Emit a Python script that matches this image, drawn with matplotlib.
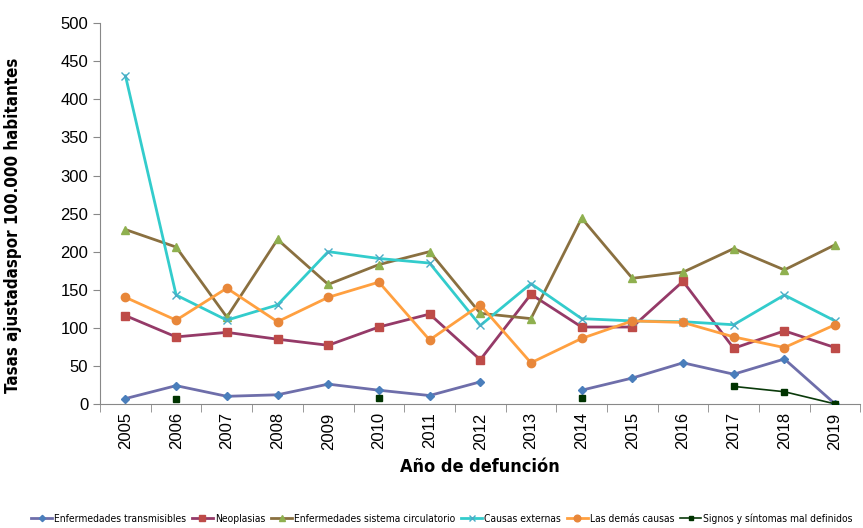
import numpy as np
import matplotlib.pyplot as plt
from matplotlib.lines import Line2D

# --- DATA ---
YEARS = [str(y) for y in range(2005, 2020)]
nan = np.nan

transmisibles = [7, 24, 10, 12, 26, 18, 11, 29, nan, 18, 34, 54, 39, 59, 0]
neoplasias = [116, 88, 94, 85, 77, 101, 118, 58, 144, 101, 101, 161, 73, 96, 74]
circulatorio = [229, 206, 114, 216, 157, 183, 200, 119, 112, 244, 165, 173, 204, 176, 209]
causas_externas = [431, 143, 110, 130, 200, 191, 185, 103, 158, 112, 109, 108, 104, 143, 109]
demas_causas = [140, 110, 152, 108, 140, 160, 84, 130, 54, 86, 109, 107, 88, 74, 104]
signos = [nan, 7, nan, nan, nan, 8, nan, nan, nan, 8, nan, nan, 23, 16, 0]

LABELS = [
    "Enfermedades transmisibles",
    "Neoplasias",
    "Enfermedades sistema circulatorio",
    "Causas externas",
    "Las demás causas",
    "Signos y síntomas mal definidos",
]

# (line colour, marker, marker colour, marker size, line width)
STYLES = [
    ("#6E6EAA", "D", "#4A7EBB", 4, 2.0),
    ("#953A68", "s", "#BE4B48", 6, 2.0),
    ("#8A7040", "^", "#8FB04F", 6, 2.0),
    ("#33CCCC", "x", "#4BACC6", 6, 2.0),
    ("#FFA040", "o", "#E8873A", 6, 2.0),
    ("#0A3A0A", "s", "#003300", 4, 1.2),
]

SERIES = [transmisibles, neoplasias, circulatorio, causas_externas, demas_causas, signos]

# Excel used Arial Narrow; DejaVu Sans Condensed is the closest installed face
NARROW = 'DejaVu Sans'


def main():
    plt.rcParams['font.family'] = ['Liberation Sans', 'DejaVu Sans']
    fig = plt.figure(figsize=(8.63, 5.28), dpi=100)
    ax = fig.add_axes([0.116, 0.235, 0.881, 0.721])

    x = np.arange(len(YEARS))
    handles = []
    for vals, (lc, mk, mc, ms, lw), lab in zip(SERIES, STYLES, LABELS):
        vals = np.array(vals, dtype=float)
        ax.plot(x, vals, color=lc, lw=lw, marker=mk, ms=ms,
                markerfacecolor=mc, markeredgecolor=mc, markeredgewidth=1.0,
                zorder=3)
        handles.append(Line2D([0], [0], color=lc, lw=lw, marker=mk, ms=ms * 0.8,
                              markerfacecolor=mc, markeredgecolor=mc))

    ax.set_xlim(-0.5, len(YEARS) - 0.5)
    ax.set_ylim(0, 500)
    ax.set_yticks(np.arange(0, 501, 50))
    ax.set_xticks(x)
    ax.set_xticklabels(YEARS, rotation=90, fontsize=12)
    ax.tick_params(axis='x', length=0, pad=6)
    ax.set_xticks(np.arange(-0.5, len(YEARS), 1), minor=True)
    ax.tick_params(axis='x', which='minor', length=6, color='#888888', direction='out')
    ax.tick_params(axis='y', labelsize=12, length=5, color='#888888', direction='out')

    for s in ['top', 'right']:
        ax.spines[s].set_visible(False)
    for s in ['left', 'bottom']:
        ax.spines[s].set_color('#888888')

    ax.set_ylabel("Tasas ajustadaspor 100.000 habitantes", fontsize=12.2,
                  fontweight='bold', family=NARROW, stretch='condensed')
    ax.yaxis.set_label_coords(-0.103, 0.47)
    ax.set_xlabel("Año de defunción", fontsize=13, fontweight='bold', labelpad=6,
                  family=NARROW, stretch='condensed')

    fig.legend(handles, LABELS, loc='lower center', bbox_to_anchor=(0.512, -0.01),
               ncol=6, frameon=False, handlelength=2.0,
               handletextpad=0.2, columnspacing=0.6,
               prop={'family': NARROW, 'stretch': 'condensed', 'size': 7.4})

    fig.savefig("out.png", dpi=100)


if __name__ == "__main__":
    main()
